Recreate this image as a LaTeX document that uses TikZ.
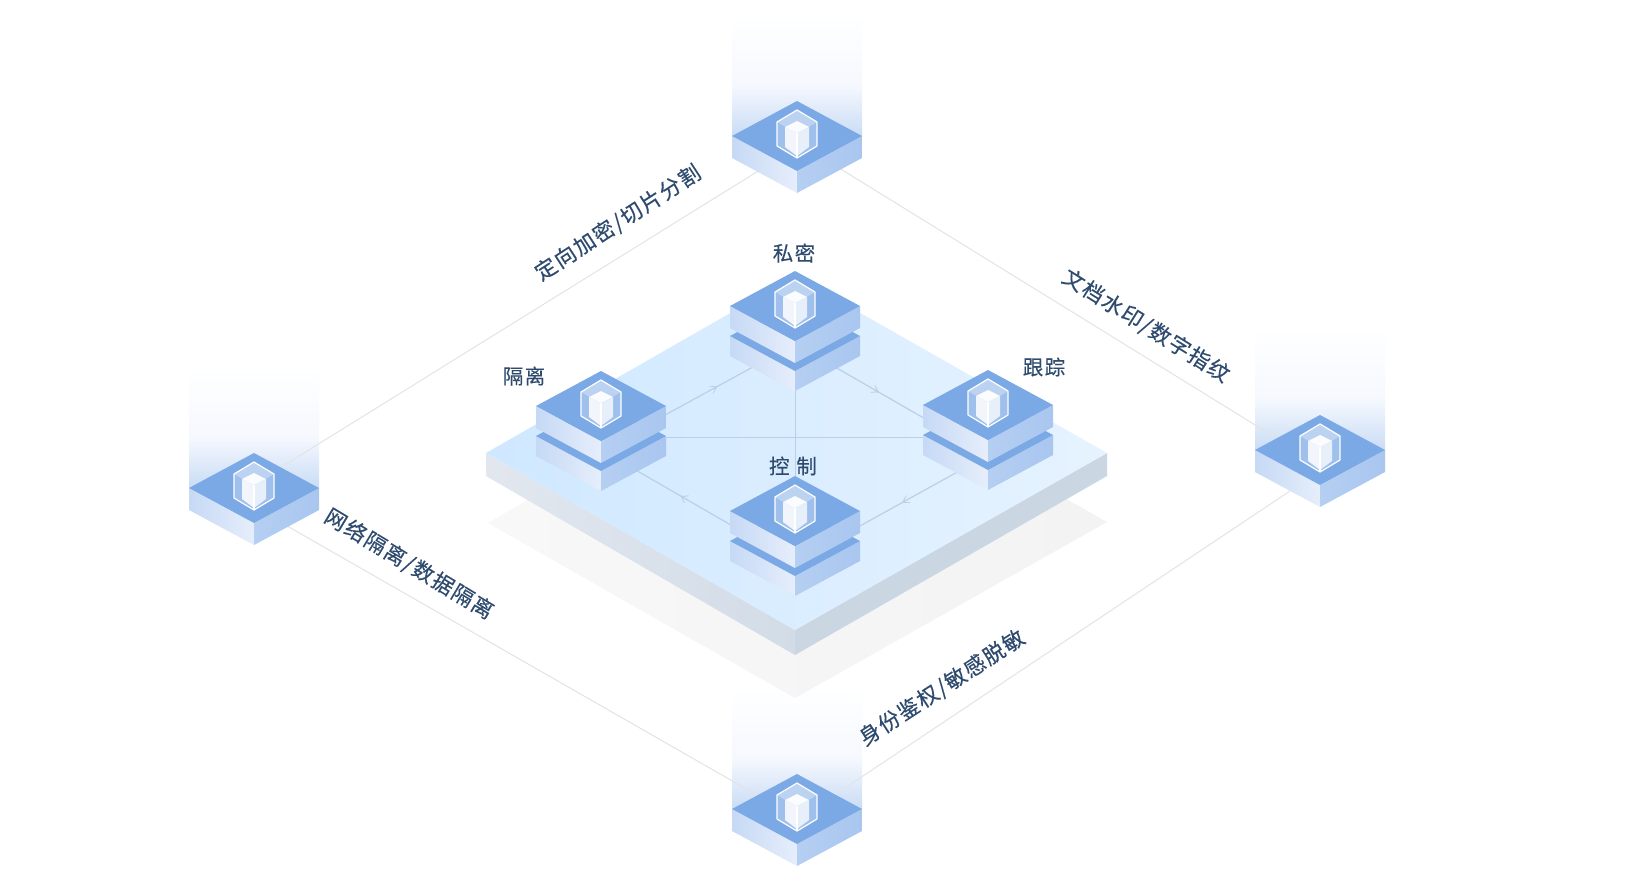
\documentclass[tikz,border=0pt]{standalone}
\usepackage{fontspec}
\newfontfamily\cjk[LetterSpace=7,FakeBold=0.25]{Noto Sans CJK SC}
\usetikzlibrary{arrows.meta,decorations.markings}
\definecolor{faceTop}{HTML}{7BA9E6}
\definecolor{sideLa}{HTML}{C6D9F5}
\definecolor{sideLb}{HTML}{E6EEFB}
\definecolor{sideRa}{HTML}{B5CFF2}
\definecolor{sideRb}{HTML}{A9C6EF}
\definecolor{outerLine}{HTML}{E4E4E4}
\definecolor{innerLine}{HTML}{BBCFE6}
\definecolor{labelInk}{HTML}{2E4A6E}
\definecolor{glowMid}{HTML}{F5F8FE}
\definecolor{glowLow}{HTML}{C9DCF5}
\definecolor{shadowA}{HTML}{F8F8F8}
\definecolor{shadowB}{HTML}{F3F3F3}
\definecolor{platA}{HTML}{CFE8FF}
\definecolor{platB}{HTML}{E6F3FF}
\definecolor{platLa}{HTML}{E2E7EF}
\definecolor{platLb}{HTML}{D2DCE7}
\definecolor{platR}{HTML}{CAD7E3}
\tikzset{
  outerlink/.style={draw=outerLine,line width=1pt},
  innerlink/.style={draw=innerLine,line width=#1},
  innerlink/.default=1.2pt,
  flowlink/.style={innerlink,postaction={decorate},decoration={markings,mark=at position #1 with {\arrow[innerLine]{Stealth[length=12pt,width=15pt,inset=10pt]}}}},
  lab/.style={font=\cjk\fontsize{20.5}{24}\selectfont,text=labelInk,inner sep=0pt},
  sidelab/.style={lab,font=\cjk\fontsize{21.5}{24}\selectfont},
  leftside/.style={left color=sideLa,right color=sideLb,draw=none},
  rightside/.style={left color=sideRa,right color=sideRb,draw=none},
  topface/.style={fill=faceTop,draw=none},
}
% #1 = depth of the slab
\newcommand{\slabshape}[1]{%
  \path[leftside] (-65,0)--(0,35)--(0,35+#1)--(-65,#1)--cycle;
  \path[rightside] (0,35)--(65,0)--(65,#1)--(0,35+#1)--cycle;
  \path[topface] (-65,0)--(0,-35)--(65,0)--(0,35)--cycle;
}
\newcommand{\cubeicon}{%
  \begin{scope}[shift={(0,-2)}]
    \fill[white,opacity=.28] (0,-24)--(20,-12)--(20,12)--(0,24)--(-20,12)--(-20,-12)--cycle;
    \fill[white,opacity=.3] (0,-24)--(20,-12)--(0,0)--(-20,-12)--cycle;
    \fill[white!97!faceTop] (0,-13)--(12,-7)--(0,-1)--(-12,-7)--cycle;
    \fill[white!90!faceTop] (-12,-7)--(0,-1)--(0,22)--(-12,13)--cycle;
    \fill[white!82!faceTop] (12,-7)--(0,-1)--(0,22)--(12,13)--cycle;
    \draw[white,line width=1.2pt,line join=round] (0,-24)--(20,-12)--(20,12)--(0,24)--(-20,12)--(-20,-12)--cycle;
    \draw[white,line width=1.1pt] (0,-1)--(0,24);
  \end{scope}
}
\newcommand{\singleblock}[3]{%
  \begin{scope}[shift={(#1,#2)}]
    \slabshape{22}\cubeicon
  \end{scope}
  \coordinate (#3) at (#1,#2);
}
\newcommand{\doubleblock}[3]{%
  \begin{scope}[shift={(#1,#2)}]
    \begin{scope}[shift={(0,30)}]\slabshape{20}\end{scope}
    \slabshape{22}\cubeicon
  \end{scope}
  \coordinate (#3) at (#1,#2);
}
\newcommand{\glow}[2]{%
  \path[top color=white,bottom color=glowMid,draw=none] (#1-65,#2-122) rectangle (#1+65,#2-49);
  \path[top color=glowMid,bottom color=glowLow,draw=none] (#1-65,#2-50) rectangle (#1+65,#2);
}
\begin{document}
\begin{tikzpicture}[x=1pt,y=-1pt]
\useasboundingbox (0,0) rectangle (1644,889);
\fill[white] (0,0) rectangle (1644,889);
% glows
\glow{797}{136}\glow{254}{488}\glow{1320}{450}\glow{797}{809}
% outer link ends
\coordinate (topL) at (797,147);
\coordinate (topR) at (797,142);
\coordinate (leftT) at (254,484);
\coordinate (leftB) at (254,507);
\coordinate (rightT) at (1320,465);
\coordinate (rightB) at (1320,471);
\coordinate (botL) at (797,818);
\coordinate (botR) at (797,820);
\draw[outerlink] (topL)--(leftT);
\draw[outerlink] (topR)--(rightT);
\draw[outerlink] (leftB)--(botL);
\draw[outerlink] (botR)--(rightB);
% shadow and platform
\path[left color=shadowA,right color=shadowB,draw=none] (488,523)--(795,698)--(1107,522)--(795,346)--cycle;
\path[left color=platLa,right color=platLb,draw=none] (486,453)--(795,630)--(795,655)--(486,476)--cycle;
\path[fill=platR,draw=none] (795,630)--(1107,453)--(1107,476)--(795,655)--cycle;
\path[left color=platA,right color=platB,draw=none] (486,453)--(795,276)--(1107,453)--(795,630)--cycle;
% inner links
\coordinate (hubP) at (795,344);
\coordinate (hubL) at (601,450);
\coordinate (hubR) at (988,455);
\coordinate (hubC) at (795,562);
\coordinate (crossL) at (601,437);
\coordinate (crossR) at (988,437);
\draw[innerlink=1pt] (hubP)--(hubC);
\draw[innerlink=1pt] (crossL)--(crossR);
\draw[flowlink=.6] (hubL)--(hubP);
\draw[flowlink=.435] (hubP)--(hubR);
\draw[flowlink=.445] (hubR)--(hubC);
\draw[flowlink=.59] (hubC)--(hubL);
% blocks
\singleblock{797}{136}{blkTop}
\singleblock{254}{488}{blkLeft}
\singleblock{1320}{450}{blkRight}
\singleblock{797}{809}{blkBottom}
\doubleblock{795}{306}{blkPrivate}
\doubleblock{601}{406}{blkIso}
\doubleblock{988}{405}{blkTrack}
\doubleblock{795}{511}{blkCtrl}
% labels
\node[lab] (lPrivate) at (794,253) {私密};
\node[lab] (lIso) at (524,376) {隔离};
\node[lab] (lTrack) at (1044,367) {跟踪};
\node[lab] (lCtrl) at (793,466) {控\,\,制};
\node[sidelab,rotate=33] (sTL) at (618,223) {定向加密/切片分割};
\node[sidelab,rotate=-32] (sTR) at (1146,326) {文档水印/数字指纹};
\node[sidelab,rotate=-31] (sBL) at (409,564) {网络隔离/数据隔离};
\node[sidelab,rotate=33] (sBR) at (942,688) {身份鉴权/敏感脱敏};
\end{tikzpicture}
\end{document}
